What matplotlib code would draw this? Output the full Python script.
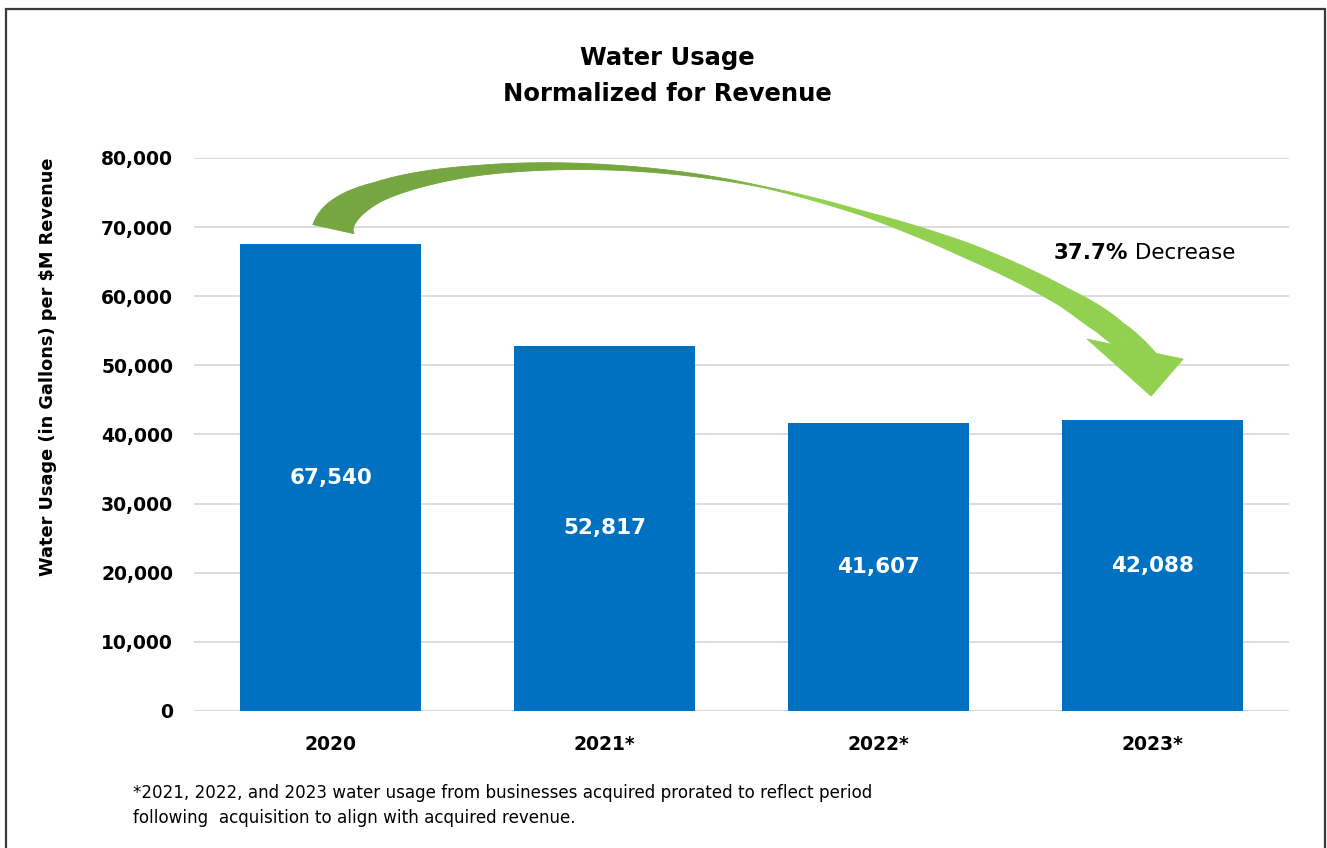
import numpy as np
import matplotlib
matplotlib.use("Agg")
import matplotlib.pyplot as plt
from matplotlib.patches import Polygon, Rectangle
from matplotlib.collections import PolyCollection
from matplotlib.colors import to_rgb

plt.rcParams['font.family'] = ['DejaVu Sans']

# chart data
years = ["2020", "2021*", "2022*", "2023*"]
usage = [67540, 52817, 41607, 42088]
yticks = [0, 10000, 20000, 30000, 40000, 50000, 60000, 70000, 80000]
title_lines = ["Water Usage", "Normalized for Revenue"]
ylabel = "Water Usage (in Gallons) per $M Revenue"
change_pct = "37.7%"
change_word = "Decrease"
footnote = ["*2021, 2022, and 2023 water usage from businesses acquired prorated to reflect period",
            "following  acquisition to align with acquired revenue."]

W, H = 1327, 848
fig = plt.figure(figsize=(W / 100, H / 100), dpi=100)
ax = fig.add_axes([194 / W, 1 - 711 / H, 1095 / W, 553 / H])

x = np.arange(len(years))
bars = ax.bar(x, usage, width=0.661, color='#0070C0', zorder=2)
ax.set_xlim(-0.5, len(years) - 0.5)
ax.set_ylim(0, 80000)
ax.set_xticks(x, years)
ax.set_yticks(yticks)
ax.yaxis.set_major_formatter(lambda v, p: f"{v:,.0f}")
ax.grid(axis='y', color='#D9D9D9', lw=1.3, zorder=0)
ax.set_axisbelow(True)
for s in ax.spines.values():
    s.set_visible(False)
ax.tick_params(length=0, labelsize=13.5)
ax.tick_params(axis='y', pad=15)
ax.tick_params(axis='x', pad=17)
for lab in ax.get_xticklabels() + ax.get_yticklabels():
    lab.set_fontweight('bold')

ax.bar_label(bars, labels=[f"{v:,}" for v in usage], label_type='center',
             color='white', fontsize=15.5, fontweight='bold')

# titles, axis label, footnote
fig.text(0.503, 1 - 58 / H, title_lines[0], ha='center', va='center', fontsize=17.5, fontweight='bold')
fig.text(0.503, 1 - 94 / H, title_lines[1], ha='center', va='center', fontsize=17.5, fontweight='bold')
fig.text(48 / W, 1 - 367 / H, ylabel, rotation=90, ha='center', va='center',
         fontsize=12.8, fontweight='bold')
fig.text(133 / W, 1 - 793 / H, footnote[0], ha='left', va='center', fontsize=12.1)
fig.text(133 / W, 1 - 818 / H, footnote[1], ha='left', va='center', fontsize=12.1)

t1 = ax.text(2.64, 66300, change_pct, fontsize=15.5, fontweight='bold', va='center')
ax.annotate(" " + change_word, xy=(1, 0), xycoords=t1, va='bottom', ha='left', fontsize=15.5)

# curved arrow from first bar to last bar (pixel geometry, y down)
fig.canvas.draw()


def to_img(xd, yd):
    dx, dy = ax.transData.transform((xd, yd))
    return np.array([dx, H - dy])


def bez(p0, p1, p2, p3, t):
    t = t[:, None]
    return ((1 - t) ** 3) * p0 + 3 * ((1 - t) ** 2) * t * p1 + 3 * (1 - t) * t ** 2 * p2 + t ** 3 * p3


def unit(v):
    v = np.asarray(v, float)
    return v / np.hypot(*v)


A = to_img(0, usage[0])
B = to_img(3, usage[3])
P0 = A + (2.5, -15)
M = A + (433, -57)
E = B + (-17.5, -71)
d0, dm, de = unit((0.19, -0.98)), unit((0.98, 0.21)), unit((0.7, 0.72))
base_dir = unit((0.978, 0.206))

t = np.linspace(0, 1, 140)
seg1 = bez(P0, P0 + 60 * d0, M - 200 * dm, M, t)
seg2 = bez(M, M + 120 * dm, E - 100 * de, E, t)
w1 = np.interp(t, [0, 0.25, 0.5, 0.75, 1], [42, 20, 10, 5, 1.2])
w2 = np.interp(t, [0, 0.25, 0.5, 0.75, 0.9, 1], [1.2, 4.5, 15, 19, 27, 44])
pts = np.vstack([seg1, seg2[1:]])
wid = np.concatenate([w1, w2[1:]])
tt = np.concatenate([t - 1, t[1:]])  # -1..0 first part, 0..1 second part
tan = np.gradient(pts, axis=0)
tan /= np.hypot(tan[:, 0], tan[:, 1])[:, None]
nrm = np.column_stack([tan[:, 1], -tan[:, 0]])
# cut the shaft end along the arrow-head base
blend = np.clip((tt - 0.8) / 0.2, 0, 1)[:, None]
nrm = nrm * (1 - blend) + base_dir * blend
nrm /= np.hypot(nrm[:, 0], nrm[:, 1])[:, None]
outer = pts + nrm * wid[:, None] / 2
inner = pts - nrm * wid[:, None] / 2

dark, light = np.array(to_rgb('#76A640')), np.array(to_rgb('#92D050'))
n = len(pts)
mix = np.clip((np.arange(n) - (len(seg1) - 15)) / 30, 0, 1)


def fig_xy(p):
    p = np.atleast_2d(p)
    return np.column_stack([p[:, 0] / W, 1 - p[:, 1] / H])


quads, cols = [], []
for i in range(n - 1):
    q = np.array([outer[i], outer[i + 1], inner[i + 1], inner[i]])
    quads.append(fig_xy(q))
    cols.append(dark * (1 - mix[i]) + light * mix[i])
pc = PolyCollection(quads, facecolors=cols, edgecolors=cols, linewidths=0.6,
                    transform=fig.transFigure, zorder=5)
fig.add_artist(pc)

head = np.array([E + (-47.5, -10), E + (48.5, 10), E + (16.5, 47)])
fig.add_artist(Polygon(fig_xy(head), closed=True, facecolor='#92D050', edgecolor='#92D050',
                       lw=0.6, transform=fig.transFigure, zorder=5))

# outer frame
fig.add_artist(Rectangle((6 / W, -0.02), (1325 - 6) / W, 1 - 9 / H + 0.02, fill=False,
                         edgecolor='#3A3A3A', lw=1.6, transform=fig.transFigure, zorder=6))

fig.savefig("out.png", dpi=100)
